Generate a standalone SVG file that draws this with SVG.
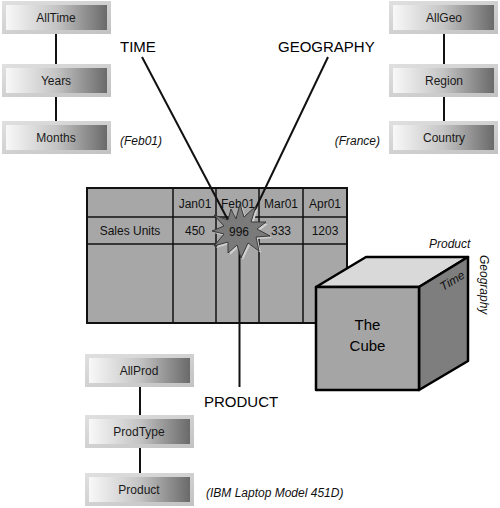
<svg xmlns="http://www.w3.org/2000/svg" width="500" height="508" viewBox="0 0 500 508">
<defs>
<linearGradient id="ng" x1="0" y1="0" x2="1" y2="0">
<stop offset="0" stop-color="#f8f8f8"/>
<stop offset="0.5" stop-color="#c4c4c4"/>
<stop offset="1" stop-color="#6a6a6a"/>
</linearGradient>
<linearGradient id="fg" x1="0" y1="0" x2="1" y2="1">
<stop offset="0" stop-color="#e0e0e0"/>
<stop offset="1" stop-color="#c2c2c2"/>
</linearGradient>
</defs>
<style>
.frame{fill:url(#fg);}
.inner{fill:url(#ng);}
.nt{font-family:"Liberation Sans",Arial,sans-serif;font-size:12px;fill:#1a1a1a;text-anchor:middle;}
.it{font-family:"Liberation Sans",Arial,sans-serif;font-size:12px;font-style:italic;fill:#111;}
.big{font-family:"Liberation Sans",Arial,sans-serif;font-size:15px;fill:#000;}
.tt{font-family:"Liberation Sans",Arial,sans-serif;font-size:12px;fill:#111;text-anchor:middle;}
.link{stroke:#111;stroke-width:2;fill:none;}
.tl{stroke:#111;stroke-width:1.5;fill:none;}
.cube{stroke:#000;stroke-width:2.5;stroke-linejoin:round;}
</style>

<g id="connectors">
<line class="link" x1="56" y1="34" x2="56" y2="64"/>
<line class="link" x1="56" y1="97" x2="56" y2="121"/>
<line class="link" x1="444" y1="34" x2="444" y2="64"/>
<line class="link" x1="444" y1="97" x2="444" y2="121"/>
<line class="link" x1="140" y1="387" x2="140" y2="415"/>
<line class="link" x1="140" y1="448" x2="140" y2="473"/>
</g>

<g id="node-alltime"><rect class="frame" x="2" y="1" width="109" height="33"/><rect class="inner" x="6" y="5" width="101" height="25"/><text class="nt" x="56" y="22">AllTime</text></g>
<g id="node-years"><rect class="frame" x="2" y="64" width="109" height="33"/><rect class="inner" x="6" y="68" width="101" height="25"/><text class="nt" x="56" y="85">Years</text></g>
<g id="node-months"><rect class="frame" x="2" y="121" width="109" height="33"/><rect class="inner" x="6" y="125" width="101" height="25"/><text class="nt" x="56" y="142">Months</text></g>

<g id="node-allgeo"><rect class="frame" x="389" y="1" width="109" height="33"/><rect class="inner" x="393" y="5" width="101" height="25"/><text class="nt" x="444" y="22">AllGeo</text></g>
<g id="node-region"><rect class="frame" x="389" y="64" width="109" height="33"/><rect class="inner" x="393" y="68" width="101" height="25"/><text class="nt" x="444" y="85">Region</text></g>
<g id="node-country"><rect class="frame" x="389" y="121" width="109" height="33"/><rect class="inner" x="393" y="125" width="101" height="25"/><text class="nt" x="444" y="142">Country</text></g>

<g id="node-allprod"><rect class="frame" x="85" y="354" width="109" height="33"/><rect class="inner" x="89" y="358" width="101" height="25"/><text class="nt" x="139" y="375">AllProd</text></g>
<g id="node-prodtype"><rect class="frame" x="85" y="415" width="109" height="33"/><rect class="inner" x="89" y="419" width="101" height="25"/><text class="nt" x="139" y="436">ProdType</text></g>
<g id="node-product"><rect class="frame" x="85" y="473" width="109" height="33"/><rect class="inner" x="89" y="477" width="101" height="25"/><text class="nt" x="139" y="494">Product</text></g>

<text class="it" x="120" y="145">(Feb01)</text>
<text class="it" x="380" y="145" text-anchor="end">(France)</text>
<text class="it" x="206" y="497">(IBM Laptop Model 451D)</text>

<g id="table">
<rect x="87" y="188" width="260" height="135" fill="#a7a7a7" stroke="#111" stroke-width="2"/>
<line class="tl" x1="87" y1="217" x2="347" y2="217"/>
<line class="tl" x1="87" y1="244" x2="347" y2="244"/>
<line class="tl" x1="173" y1="188" x2="173" y2="323"/>
<line class="tl" x1="216" y1="188" x2="216" y2="323" stroke="#444"/>
<line class="tl" x1="259" y1="188" x2="259" y2="323"/>
<line class="tl" x1="303" y1="188" x2="303" y2="323"/>
<text class="tt" x="195" y="208">Jan01</text>
<text class="tt" x="238" y="208">Feb01</text>
<text class="tt" x="281" y="208">Mar01</text>
<text class="tt" x="325" y="208">Apr01</text>
<text class="tt" x="130" y="235">Sales Units</text>
<text class="tt" x="195" y="235">450</text>
<text class="tt" x="281" y="235">333</text>
<text class="tt" x="325" y="235">1203</text>
</g>

<g id="axis-lines">
<line class="link" x1="142" y1="57" x2="229" y2="222"/>
<line class="link" x1="328" y1="57" x2="251" y2="218"/>
<line class="link" x1="239.5" y1="250" x2="239.5" y2="387"/>
</g>

<g id="starburst">
<polygon transform="translate(2,2)" fill="#cfcfcf" points="231,209 236,219 240,204 244,217 256,206 251,222 266,222 257,229 270,236 256,237 259,251 248,243 241,258 237,245 228,253 228,242 214,246 224,234 212,231 224,226 214,215 228,220"/>
<polygon fill="#7a7a7a" stroke="#3a3a3a" stroke-width="1" points="231,209 236,219 240,204 244,217 256,206 251,222 266,222 257,229 270,236 256,237 259,251 248,243 241,258 237,245 228,253 228,242 214,246 224,234 212,231 224,226 214,215 228,220"/>
<text class="tt" x="239" y="236">996</text>
</g>

<text class="big" x="120" y="52">TIME</text>
<text class="big" x="278" y="52">GEOGRAPHY</text>
<text class="big" x="204" y="407">PRODUCT</text>

<g id="cube">
<polygon class="cube" fill="#d9d9d9" points="316,287 366,257 468,257 419,287"/>
<polygon class="cube" fill="#7e7e7e" points="419,287 468,257 468,361 419,390"/>
<rect class="cube" x="316" y="287" width="103" height="103" fill="#a5a5a5"/>
<text class="big" x="367.5" y="330" text-anchor="middle">The</text>
<text class="big" x="367.5" y="351" text-anchor="middle">Cube</text>
<text class="it" font-size="11" font-style="normal" transform="translate(443,291) rotate(-31)">Time</text>
<text class="it" x="429" y="248">Product</text>
<text class="it" transform="translate(480,255) rotate(90)">Geography</text>
</g>
</svg>
